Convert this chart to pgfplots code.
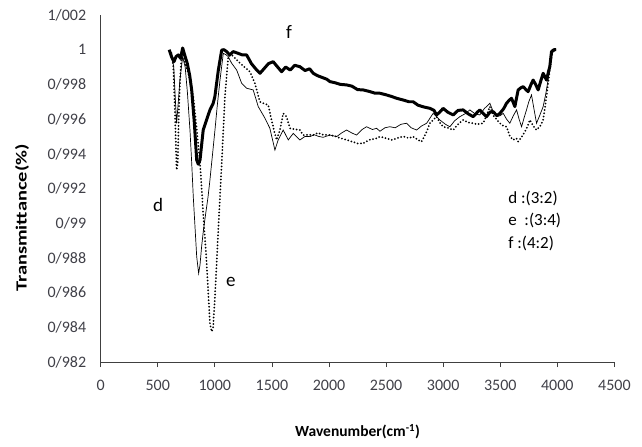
\documentclass[border=0pt]{standalone}
\usepackage{fontspec}
\setmainfont{Carlito}
\usepackage{pgfplots}
\pgfplotsset{compat=1.18}
\definecolor{txt}{HTML}{404048}
\definecolor{axl}{HTML}{404040}
\definecolor{thin}{HTML}{707070}
\begin{document}
\begin{tikzpicture}
\begin{axis}[
  scale only axis,
  width=513.7bp, height=347bp,
  xmin=0, xmax=4500, ymin=0.982, ymax=1.002,
  axis lines=left,
  axis line style={axl, line width=0.8pt, -},
  xtick={0,500,1000,1500,2000,2500,3000,3500,4000,4500},
  xticklabels={0,500,1000,1500,2000,2500,3000,3500,4000,4500},
  ytick={0.982,0.984,0.986,0.988,0.990,0.992,0.994,0.996,0.998,1.000,1.002},
  yticklabels={0/982,0/984,0/986,0/988,0/99,0/992,0/994,0/996,0/998,1,1/002},
  tick align=outside,
  major tick length=5bp,
  x tick style={axl, line width=0.8pt},
  y tick style={draw=none},
  ticklabel style={font=\fontsize{16bp}{18bp}\selectfont, text=txt},
  xticklabel style={yshift=-10bp},
  yticklabel style={xshift=-6bp},
  xlabel={\textbf{Wavenumber(cm\textsuperscript{-1})}},
  ylabel={\scalebox{1.32}[1]{\textbf{Transmittance(\%)}}},
  label style={font=\fontsize{15.5bp}{18bp}\selectfont, text=black},
  xlabel style={at={(axis description cs:0.5,0)}, anchor=center, yshift=-70bp},
  ylabel style={at={(axis description cs:0,0.5)}, anchor=center, xshift=-29.5bp, yshift=78.7bp},
  clip=false,
]
% d : thin gray line
\addplot[thin, line width=0.7pt] coordinates {
(620,0.9998) (640,0.9990) (655,0.9970) (665,0.99576) (680,0.9970) (694,0.99825)
(718,0.9996) (740,0.9990) (760,0.9975) (782,0.99537) (797,0.9935) (811,0.99153)
(826,0.9898) (841,0.98807) (858,0.98711) (870,0.9876) (884,0.98865) (900,0.9896)
(922,0.99066) (940,0.9915) (957,0.99249) (980,0.9940) (1001,0.99537) (1020,0.9967)
(1045,0.99825) (1074,0.99979) (1100,0.9997) (1117,0.9996) (1147,0.99922) (1191,0.99883)
(1235,0.99806) (1278,0.99778) (1336,0.99768) (1380,0.99672) (1439,0.99605) (1482,0.99547)
(1526,0.99422) (1555,0.9948) (1599,0.99537) (1643,0.9948) (1687,0.99518) (1745,0.9948)
(1790,0.9950) (1833,0.99499) (1870,0.9951) (1910,0.9950) (1949,0.99495) (2008,0.99508)
(2067,0.99499) (2110,0.9952) (2154,0.99537) (2200,0.9952) (2242,0.99508) (2290,0.9954)
(2329,0.99556) (2380,0.9954) (2417,0.99547) (2446,0.9953) (2490,0.9955) (2533,0.99556)
(2580,0.9955) (2630,0.9957) (2679,0.99576) (2720,0.9955) (2767,0.99537) (2810,0.9956)
(2855,0.99576) (2912,0.99633) (2971,0.99595) (3020,0.9957) (3059,0.99556) (3100,0.9959)
(3146,0.99614) (3190,0.9963) (3234,0.99653) (3280,0.9963) (3321,0.99624) (3360,0.9966)
(3409,0.99691) (3440,0.9964) (3468,0.99614) (3500,0.9962) (3526,0.99633) (3555,0.9960)
(3584,0.99576) (3615,0.9962) (3643,0.99653) (3665,0.9960) (3687,0.99556) (3710,0.9961)
(3730,0.99653) (3750,0.9970) (3774,0.99739) (3795,0.9966) (3818,0.99576) (3845,0.9962)
(3876,0.99672) (3900,0.9975) (3919,0.99825) (3935,0.9990) (3949,0.99979) (3990,1.0000)
};
% e : dotted line
\addplot[black, line width=2pt, line cap=round, dash pattern=on 0pt off 3.3pt] coordinates {
(620,0.9998) (636,0.99902) (650,0.9965) (665,0.99307) (675,0.9935) (685,0.9965)
(694,0.99806) (709,0.9998) (718,1.0000) (740,0.9992) (767,0.99864) (790,0.9980)
(811,0.99729) (840,0.9955) (870,0.99345) (898,0.99057) (928,0.98769) (957,0.98423)
(972,0.98375) (985,0.9840) (1001,0.98576) (1030,0.98961) (1060,0.99345) (1088,0.99729)
(1117,0.9996) (1147,0.9997) (1180,0.9995) (1220,0.99922) (1260,0.9990) (1307,0.99873)
(1351,0.99806) (1395,0.99700) (1430,0.9969) (1468,0.99681) (1497,0.99595) (1520,0.9953)
(1541,0.9948) (1570,0.99537) (1599,0.99633) (1628,0.99614) (1658,0.99547) (1700,0.99541)
(1745,0.99537) (1774,0.99508) (1820,0.9951) (1862,0.99508) (1900,0.9952) (1950,0.9951)
(2008,0.99508) (2060,0.9950) (2100,0.9949) (2154,0.9948) (2200,0.9947) (2250,0.9946)
(2300,0.9946) (2350,0.9948) (2417,0.99489) (2446,0.99499) (2500,0.9949) (2550,0.9948)
(2592,0.99489) (2650,0.9950) (2700,0.9949) (2737,0.99499) (2780,0.9948) (2811,0.9947)
(2850,0.9952) (2884,0.99576) (2942,0.99614) (2970,0.9958) (3000,0.99556) (3040,0.9955)
(3088,0.99537) (3130,0.9957) (3175,0.99595) (3220,0.9958) (3263,0.99576) (3300,0.9957)
(3350,0.99576) (3380,0.9962) (3409,0.99672) (3440,0.9962) (3497,0.99576) (3530,0.9956)
(3555,0.99556) (3585,0.9950) (3613,0.9948) (3640,0.9949) (3657,0.9947) (3690,0.9950)
(3716,0.99527) (3740,0.9956) (3759,0.99595) (3790,0.9956) (3818,0.99537) (3850,0.9956)
(3876,0.99595) (3890,0.9966) (3905,0.99729) (3920,0.9981) (3934,0.99883) (3950,0.9996)
(3963,1.0000) (3990,1.0000)
};
% f : bold line
\addplot[black, line width=3pt, line join=round] coordinates {
(600,1.0000) (620,0.9996) (642,0.99931) (660,0.9996) (680,0.99970) (700,0.9995)
(718,1.0001) (740,0.9996) (758,0.99922) (780,0.9985) (797,0.99768) (820,0.9958)
(841,0.99364) (855,0.9934) (870,0.99364) (898,0.99537) (930,0.9960) (957,0.99653)
(985,0.9969) (1000,0.99729) (1030,0.9988) (1060,0.99998) (1080,1.0000) (1103,0.99989)
(1130,0.9997) (1161,0.99989) (1200,0.9998) (1240,0.9997) (1278,0.9997) (1320,0.9992)
(1366,0.99883) (1395,0.99864) (1430,0.9989) (1470,0.9992) (1511,0.99931) (1550,0.9990)
(1585,0.99873) (1620,0.9990) (1660,0.99883) (1700,0.9991) (1745,0.99902) (1790,0.9988)
(1830,0.9989) (1862,0.99864) (1900,0.9985) (1940,0.9984) (1980,0.9983) (2008,0.99816)
(2050,0.9981) (2100,0.9980) (2154,0.99797) (2200,0.9979) (2250,0.9977) (2300,0.99768)
(2350,0.9976) (2400,0.9975) (2446,0.99749) (2500,0.9974) (2550,0.9973) (2592,0.9972)
(2650,0.9971) (2700,0.9970) (2737,0.9970) (2780,0.9968) (2830,0.9967) (2884,0.99662)
(2920,0.9965) (2942,0.99624) (2970,0.9964) (3000,0.99662) (3040,0.9964) (3088,0.99624)
(3130,0.9965) (3175,0.99653) (3220,0.9963) (3263,0.99614) (3300,0.9964) (3321,0.99653)
(3350,0.99633) (3380,0.99614) (3410,0.9964) (3438,0.99643) (3470,0.9962) (3497,0.99633)
(3530,0.9966) (3555,0.99691) (3580,0.9971) (3599,0.9972) (3628,0.99672) (3657,0.99768)
(3680,0.9978) (3701,0.99787) (3725,0.9977) (3744,0.99758) (3770,0.9980) (3788,0.99825)
(3810,0.9980) (3832,0.99768) (3855,0.9982) (3876,0.99864) (3905,0.99825) (3925,0.9988)
(3934,0.99902) (3949,0.99989) (3970,1.0000) (3990,1.0000)
};
\node[font=\fontsize{19bp}{21bp}\selectfont] at (axis cs:1649,1.00102) {f};
\node[font=\fontsize{19bp}{21bp}\selectfont] at (axis cs:502,0.99105) {d};
\node[font=\fontsize{19bp}{21bp}\selectfont] at (axis cs:1141,0.98661) {e};
\node[font=\fontsize{17bp}{19bp}\selectfont, anchor=west] at (axis cs:3540,0.99145) {d :(3:2)};
\node[font=\fontsize{17bp}{19bp}\selectfont, anchor=west] at (axis cs:3540,0.99013) {e \ :(3:4)};
\node[font=\fontsize{17bp}{19bp}\selectfont, anchor=west] at (axis cs:3540,0.98886) {f :(4:2)};
\end{axis}
\path[use as bounding box] (-100.7bp,-85bp) rectangle (541.3bp,362bp);
\end{tikzpicture}
\end{document}
